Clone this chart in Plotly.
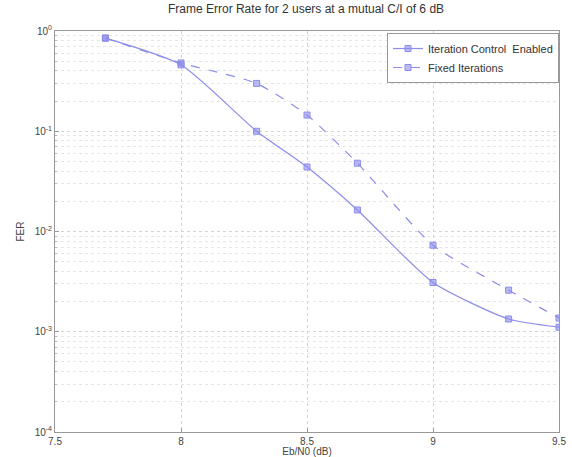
import plotly.graph_objects as go

ebn0 = [7.7, 8.0, 8.3, 8.5, 8.7, 9.0, 9.3, 9.5]
fer_iter_control = [0.85, 0.46, 0.10, 0.044, 0.0164, 0.0031, 0.00134, 0.00111]
fer_fixed = [0.85, 0.48, 0.30, 0.145, 0.048, 0.0073, 0.0026, 0.00137]
x_ticks = [7.5, 8, 8.5, 9, 9.5]
x_tick_text = ["7.5", "8", "8.5", "9", "9.5"]
decades = [1e-4, 1e-3, 1e-2, 1e-1]
y_major = [1e-4, 1e-3, 1e-2, 1e-1, 1]
y_major_text = ["10<sup>-4</sup>", "10<sup>-3</sup>", "10<sup>-2</sup>", "10<sup>-1</sup>", "10<sup>0</sup>"]
y_minor = [d * k for d in decades for k in range(2, 10)]

line_color = "rgb(140,140,235)"

fig = go.Figure()
fig.add_trace(go.Scatter(
    x=ebn0, y=fer_iter_control, name="Iteration Control  Enabled",
    mode="lines+markers", line=dict(color=line_color, width=1.2, shape="spline", smoothing=0.6),
    marker=dict(symbol="square", size=6, color="rgba(140,140,235,0.6)",
                line=dict(color=line_color, width=1)),
))
fig.add_trace(go.Scatter(
    x=ebn0, y=fer_fixed, name="Fixed Iterations",
    mode="lines+markers", line=dict(color=line_color, width=1.2, dash="dash", shape="spline", smoothing=0.6),
    marker=dict(symbol="square", size=6, color="rgba(140,140,235,0.6)",
                line=dict(color=line_color, width=1)),
))

fam = "Liberation Sans, Arial"
fig.update_layout(
    width=572, height=457,
    margin=dict(l=55, r=13, t=31, b=25, autoexpand=False),
    paper_bgcolor="white", plot_bgcolor="white",
    title=dict(text="Frame Error Rate for 2 users at a mutual C/I of 6 dB",
               x=0.535, xanchor="center", y=0.99, yanchor="top",
               font=dict(family=fam, size=12, color="#333")),
    font=dict(family=fam, size=10, color="#444"),
    showlegend=True,
    legend=dict(x=1.0, y=0.995, xanchor="right", yanchor="top",
                bgcolor="white", bordercolor="#999", borderwidth=1,
                font=dict(family=fam, size=11, color="#333"),
                tracegroupgap=0, itemwidth=30),
    xaxis=dict(range=[7.5, 9.5], tickvals=x_ticks, ticktext=x_tick_text, automargin=False,
               showgrid=True, gridcolor="#d4d4d4", griddash="dot", gridwidth=1,
               showline=True, linecolor="#999", mirror=True, ticks="inside", ticklen=4,
               tickcolor="#999", zeroline=False, tickfont=dict(size=10),
               title=dict(text="Eb/N0 (dB)", font=dict(size=10, color="#444"), standoff=0)),
    yaxis=dict(type="log", range=[-4, 0], tickvals=y_major, ticktext=y_major_text, automargin=False,
               showgrid=True, gridcolor="#d4d4d4", griddash="dot", gridwidth=1,
               minor=dict(tickvals=y_minor, showgrid=True, gridcolor="#e6e6e6", griddash="dot",
                          ticks="inside", ticklen=2, tickcolor="#bbb"),
               showline=True, linecolor="#999", mirror=True, ticks="inside", ticklen=4,
               tickcolor="#999", zeroline=False, tickfont=dict(size=10),
               title=dict(text="FER", font=dict(size=10, color="#444"), standoff=8)),
)

fig.write_html("out.html", config={"displayModeBar": False},
               post_script="document.body.style.margin='0';")
